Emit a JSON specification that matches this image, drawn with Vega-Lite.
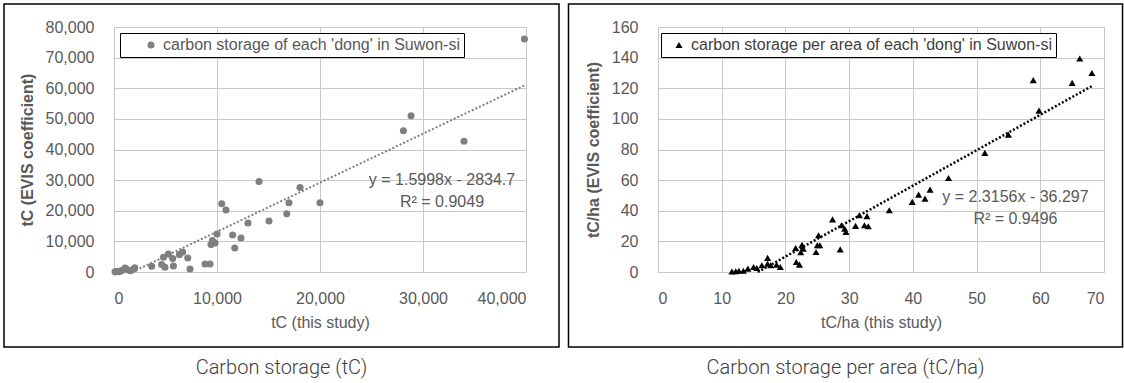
{
  "$schema": "https://vega.github.io/schema/vega-lite/v6.json",
  "padding": {"left": 2, "top": 2, "right": 0, "bottom": 0},
  "background": "white",
  "spacing": 6,
  "config": {
    "font": "Liberation Sans",
    "view": {"stroke": "#c8c8c8", "strokeWidth": 1},
    "axis": {
      "labelFont": "Liberation Sans", "labelFontSize": 16, "labelColor": "#595959",
      "titleFont": "Liberation Sans", "titleFontSize": 16, "titleColor": "#595959", "titleFontWeight": "normal",
      "gridColor": "#c8c8c8", "gridOpacity": 1, "gridWidth": 1, "grid": true, "domain": false, "ticks": false, "labelOverlap": false
    },
    "axisX": {"labelPadding": 18, "titlePadding": 8},
    "axisY": {"labelPadding": 20, "titlePadding": 10, "titleFontWeight": "bold"},
    "title": {"font": "Roboto", "fontSize": 20, "fontWeight": 300, "color": "#404040", "orient": "bottom", "offset": 10, "frame": "bounds", "anchor": "middle"}
  },
  "datasets": {
    "left": [
      {"tc_study": 39850, "tc_evis": 76100, "series": "carbon storage of each 'dong' in Suwon-si"},
      {"tc_study": 28840, "tc_evis": 51000, "series": "carbon storage of each 'dong' in Suwon-si"},
      {"tc_study": 28100, "tc_evis": 46100, "series": "carbon storage of each 'dong' in Suwon-si"},
      {"tc_study": 33980, "tc_evis": 42700, "series": "carbon storage of each 'dong' in Suwon-si"},
      {"tc_study": 14080, "tc_evis": 29580, "series": "carbon storage of each 'dong' in Suwon-si"},
      {"tc_study": 18060, "tc_evis": 27620, "series": "carbon storage of each 'dong' in Suwon-si"},
      {"tc_study": 10460, "tc_evis": 22300, "series": "carbon storage of each 'dong' in Suwon-si"},
      {"tc_study": 10870, "tc_evis": 20220, "series": "carbon storage of each 'dong' in Suwon-si"},
      {"tc_study": 16990, "tc_evis": 22630, "series": "carbon storage of each 'dong' in Suwon-si"},
      {"tc_study": 20000, "tc_evis": 22630, "series": "carbon storage of each 'dong' in Suwon-si"},
      {"tc_study": 16770, "tc_evis": 19040, "series": "carbon storage of each 'dong' in Suwon-si"},
      {"tc_study": 13010, "tc_evis": 15980, "series": "carbon storage of each 'dong' in Suwon-si"},
      {"tc_study": 15050, "tc_evis": 16630, "series": "carbon storage of each 'dong' in Suwon-si"},
      {"tc_study": 10000, "tc_evis": 12390, "series": "carbon storage of each 'dong' in Suwon-si"},
      {"tc_study": 11520, "tc_evis": 12070, "series": "carbon storage of each 'dong' in Suwon-si"},
      {"tc_study": 12330, "tc_evis": 11090, "series": "carbon storage of each 'dong' in Suwon-si"},
      {"tc_study": 9550, "tc_evis": 10240, "series": "carbon storage of each 'dong' in Suwon-si"},
      {"tc_study": 9810, "tc_evis": 9460, "series": "carbon storage of each 'dong' in Suwon-si"},
      {"tc_study": 9420, "tc_evis": 8940, "series": "carbon storage of each 'dong' in Suwon-si"},
      {"tc_study": 11720, "tc_evis": 7830, "series": "carbon storage of each 'dong' in Suwon-si"},
      {"tc_study": 5280, "tc_evis": 5870, "series": "carbon storage of each 'dong' in Suwon-si"},
      {"tc_study": 4800, "tc_evis": 4790, "series": "carbon storage of each 'dong' in Suwon-si"},
      {"tc_study": 5700, "tc_evis": 4370, "series": "carbon storage of each 'dong' in Suwon-si"},
      {"tc_study": 6350, "tc_evis": 5670, "series": "carbon storage of each 'dong' in Suwon-si"},
      {"tc_study": 6670, "tc_evis": 6520, "series": "carbon storage of each 'dong' in Suwon-si"},
      {"tc_study": 7160, "tc_evis": 4570, "series": "carbon storage of each 'dong' in Suwon-si"},
      {"tc_study": 7380, "tc_evis": 980, "series": "carbon storage of each 'dong' in Suwon-si"},
      {"tc_study": 8840, "tc_evis": 2610, "series": "carbon storage of each 'dong' in Suwon-si"},
      {"tc_study": 9320, "tc_evis": 2610, "series": "carbon storage of each 'dong' in Suwon-si"},
      {"tc_study": 3660, "tc_evis": 1860, "series": "carbon storage of each 'dong' in Suwon-si"},
      {"tc_study": 4630, "tc_evis": 2410, "series": "carbon storage of each 'dong' in Suwon-si"},
      {"tc_study": 4950, "tc_evis": 1530, "series": "carbon storage of each 'dong' in Suwon-si"},
      {"tc_study": 5770, "tc_evis": 1960, "series": "carbon storage of each 'dong' in Suwon-si"},
      {"tc_study": 1940, "tc_evis": 980, "series": "carbon storage of each 'dong' in Suwon-si"},
      {"tc_study": 2010, "tc_evis": 1370, "series": "carbon storage of each 'dong' in Suwon-si"},
      {"tc_study": 1070, "tc_evis": 1300, "series": "carbon storage of each 'dong' in Suwon-si"},
      {"tc_study": 750, "tc_evis": 460, "series": "carbon storage of each 'dong' in Suwon-si"},
      {"tc_study": 430, "tc_evis": 100, "series": "carbon storage of each 'dong' in Suwon-si"},
      {"tc_study": 100, "tc_evis": 50, "series": "carbon storage of each 'dong' in Suwon-si"},
      {"tc_study": 550, "tc_evis": 230, "series": "carbon storage of each 'dong' in Suwon-si"},
      {"tc_study": 1330, "tc_evis": 720, "series": "carbon storage of each 'dong' in Suwon-si"},
      {"tc_study": 250, "tc_evis": 150, "series": "carbon storage of each 'dong' in Suwon-si"},
      {"tc_study": 1600, "tc_evis": 400, "series": "carbon storage of each 'dong' in Suwon-si"}
    ],
    "leftTrend": [
      {"tc_study": 1772, "tc_evis": 0},
      {"tc_study": 40000, "tc_evis": 61157}
    ],
    "right": [
      {"tcha_study": 11.6, "tcha_evis": 0.3, "series": "carbon storage per area of each 'dong' in Suwon-si"},
      {"tcha_study": 12.2, "tcha_evis": 0.5, "series": "carbon storage per area of each 'dong' in Suwon-si"},
      {"tcha_study": 12.7, "tcha_evis": 0.8, "series": "carbon storage per area of each 'dong' in Suwon-si"},
      {"tcha_study": 13.4, "tcha_evis": 0.8, "series": "carbon storage per area of each 'dong' in Suwon-si"},
      {"tcha_study": 14.1, "tcha_evis": 2.2, "series": "carbon storage per area of each 'dong' in Suwon-si"},
      {"tcha_study": 15.0, "tcha_evis": 3.3, "series": "carbon storage per area of each 'dong' in Suwon-si"},
      {"tcha_study": 15.5, "tcha_evis": 2.6, "series": "carbon storage per area of each 'dong' in Suwon-si"},
      {"tcha_study": 16.3, "tcha_evis": 4.4, "series": "carbon storage per area of each 'dong' in Suwon-si"},
      {"tcha_study": 17.2, "tcha_evis": 9.2, "series": "carbon storage per area of each 'dong' in Suwon-si"},
      {"tcha_study": 17.2, "tcha_evis": 5.5, "series": "carbon storage per area of each 'dong' in Suwon-si"},
      {"tcha_study": 17.7, "tcha_evis": 4.4, "series": "carbon storage per area of each 'dong' in Suwon-si"},
      {"tcha_study": 18.6, "tcha_evis": 4.8, "series": "carbon storage per area of each 'dong' in Suwon-si"},
      {"tcha_study": 19.2, "tcha_evis": 3.3, "series": "carbon storage per area of each 'dong' in Suwon-si"},
      {"tcha_study": 21.6, "tcha_evis": 15.7, "series": "carbon storage per area of each 'dong' in Suwon-si"},
      {"tcha_study": 21.7, "tcha_evis": 6.5, "series": "carbon storage per area of each 'dong' in Suwon-si"},
      {"tcha_study": 22.2, "tcha_evis": 4.8, "series": "carbon storage per area of each 'dong' in Suwon-si"},
      {"tcha_study": 22.6, "tcha_evis": 17.8, "series": "carbon storage per area of each 'dong' in Suwon-si"},
      {"tcha_study": 22.8, "tcha_evis": 15.2, "series": "carbon storage per area of each 'dong' in Suwon-si"},
      {"tcha_study": 22.4, "tcha_evis": 12.9, "series": "carbon storage per area of each 'dong' in Suwon-si"},
      {"tcha_study": 25.0, "tcha_evis": 17.5, "series": "carbon storage per area of each 'dong' in Suwon-si"},
      {"tcha_study": 25.4, "tcha_evis": 17.5, "series": "carbon storage per area of each 'dong' in Suwon-si"},
      {"tcha_study": 24.8, "tcha_evis": 13.1, "series": "carbon storage per area of each 'dong' in Suwon-si"},
      {"tcha_study": 25.2, "tcha_evis": 24.0, "series": "carbon storage per area of each 'dong' in Suwon-si"},
      {"tcha_study": 28.6, "tcha_evis": 14.8, "series": "carbon storage per area of each 'dong' in Suwon-si"},
      {"tcha_study": 27.4, "tcha_evis": 34.4, "series": "carbon storage per area of each 'dong' in Suwon-si"},
      {"tcha_study": 28.8, "tcha_evis": 30.5, "series": "carbon storage per area of each 'dong' in Suwon-si"},
      {"tcha_study": 29.3, "tcha_evis": 28.3, "series": "carbon storage per area of each 'dong' in Suwon-si"},
      {"tcha_study": 29.5, "tcha_evis": 26.1, "series": "carbon storage per area of each 'dong' in Suwon-si"},
      {"tcha_study": 31.0, "tcha_evis": 30.1, "series": "carbon storage per area of each 'dong' in Suwon-si"},
      {"tcha_study": 31.6, "tcha_evis": 37.1, "series": "carbon storage per area of each 'dong' in Suwon-si"},
      {"tcha_study": 32.8, "tcha_evis": 36.5, "series": "carbon storage per area of each 'dong' in Suwon-si"},
      {"tcha_study": 32.4, "tcha_evis": 30.5, "series": "carbon storage per area of each 'dong' in Suwon-si"},
      {"tcha_study": 33.0, "tcha_evis": 29.9, "series": "carbon storage per area of each 'dong' in Suwon-si"},
      {"tcha_study": 36.3, "tcha_evis": 40.3, "series": "carbon storage per area of each 'dong' in Suwon-si"},
      {"tcha_study": 39.9, "tcha_evis": 45.8, "series": "carbon storage per area of each 'dong' in Suwon-si"},
      {"tcha_study": 40.9, "tcha_evis": 50.5, "series": "carbon storage per area of each 'dong' in Suwon-si"},
      {"tcha_study": 41.9, "tcha_evis": 47.9, "series": "carbon storage per area of each 'dong' in Suwon-si"},
      {"tcha_study": 42.7, "tcha_evis": 53.8, "series": "carbon storage per area of each 'dong' in Suwon-si"},
      {"tcha_study": 45.6, "tcha_evis": 61.4, "series": "carbon storage per area of each 'dong' in Suwon-si"},
      {"tcha_study": 51.3, "tcha_evis": 77.8, "series": "carbon storage per area of each 'dong' in Suwon-si"},
      {"tcha_study": 55.0, "tcha_evis": 89.7, "series": "carbon storage per area of each 'dong' in Suwon-si"},
      {"tcha_study": 59.8, "tcha_evis": 105.4, "series": "carbon storage per area of each 'dong' in Suwon-si"},
      {"tcha_study": 58.9, "tcha_evis": 125.3, "series": "carbon storage per area of each 'dong' in Suwon-si"},
      {"tcha_study": 65.0, "tcha_evis": 123.5, "series": "carbon storage per area of each 'dong' in Suwon-si"},
      {"tcha_study": 66.2, "tcha_evis": 139.4, "series": "carbon storage per area of each 'dong' in Suwon-si"},
      {"tcha_study": 68.1, "tcha_evis": 130.0, "series": "carbon storage per area of each 'dong' in Suwon-si"}
    ],
    "rightTrend": [
      {"tcha_study": 15.67, "tcha_evis": 0},
      {"tcha_study": 68.1, "tcha_evis": 121.4}
    ]
  },
  "resolve": {"legend": {"color": "independent"}, "scale": {"color": "independent"}},
  "hconcat": [
    {
      "width": 412,
      "height": 245,
      "title": {"text": "Carbon storage (tC)"},
      "layer": [
        {
          "data": {"name": "leftTrend"},
          "mark": {"type": "line", "strokeDash": [2, 2], "strokeWidth": 2, "color": "#808080"},
          "encoding": {
            "x": {"field": "tc_study", "type": "quantitative", "scale": {"domain": [0, 40000], "nice": false},
                  "axis": {"title": "tC (this study)", "values": [0, 10000, 20000, 30000, 40000], "format": ",.0f", "grid": true, "gridColor": "#c8c8c8", "zindex": 0}},
            "y": {"field": "tc_evis", "type": "quantitative", "scale": {"domain": [0, 80000], "nice": false},
                  "axis": {"title": "tC (EVIS coefficient)", "values": [0, 10000, 20000, 30000, 40000, 50000, 60000, 70000, 80000], "format": ",.0f", "grid": true, "gridColor": "#c8c8c8", "zindex": 0}}
          }
        },
        {
          "data": {"name": "left"},
          "mark": {"type": "point", "filled": true, "shape": "circle", "size": 50, "opacity": 1},
          "encoding": {
            "x": {"field": "tc_study", "type": "quantitative", "scale": {"domain": [0, 40000], "nice": false},
                  "axis": {"title": "tC (this study)", "values": [0, 10000, 20000, 30000, 40000], "format": ",.0f", "grid": true, "gridColor": "#c8c8c8", "zindex": 0}},
            "y": {"field": "tc_evis", "type": "quantitative", "scale": {"domain": [0, 80000], "nice": false},
                  "axis": {"title": "tC (EVIS coefficient)", "values": [0, 10000, 20000, 30000, 40000, 50000, 60000, 70000, 80000], "format": ",.0f", "grid": true, "gridColor": "#c8c8c8", "zindex": 0}},
            "color": {"field": "series", "type": "nominal", "scale": {"range": ["#7f7f7f"]},
                      "legend": {"orient": "none", "legendX": 6, "legendY": 6, "title": null, "strokeColor": "black", "fillColor": "white", "padding": 4, "symbolOffset": 19, "symbolType": "circle", "symbolSize": 50, "labelFont": "Liberation Sans", "labelFontSize": 16, "labelColor": "#595959", "labelLimit": 0}}
          }
        },
        {
          "data": {"values": [{}]},
          "mark": {"type": "text", "font": "Liberation Sans", "fontSize": 16, "color": "#595959", "align": "center", "baseline": "middle"},
          "encoding": {
            "x": {"datum": 31845, "type": "quantitative", "scale": {"domain": [0, 40000], "nice": false},
                  "axis": {"title": "tC (this study)", "values": [0, 10000, 20000, 30000, 40000], "format": ",.0f", "grid": true, "gridColor": "#c8c8c8", "zindex": 0}},
            "y": {"datum": 30040, "type": "quantitative", "scale": {"domain": [0, 80000], "nice": false},
                  "axis": {"title": "tC (EVIS coefficient)", "values": [0, 10000, 20000, 30000, 40000, 50000, 60000, 70000, 80000], "format": ",.0f", "grid": true, "gridColor": "#c8c8c8", "zindex": 0}},
            "text": {"value": "y = 1.5998x - 2834.7"}
          }
        },
        {
          "data": {"values": [{}]},
          "mark": {"type": "text", "font": "Liberation Sans", "fontSize": 16, "color": "#595959", "align": "center", "baseline": "middle"},
          "encoding": {
            "x": {"datum": 31845, "type": "quantitative", "scale": {"domain": [0, 40000], "nice": false},
                  "axis": {"title": "tC (this study)", "values": [0, 10000, 20000, 30000, 40000], "format": ",.0f", "grid": true, "gridColor": "#c8c8c8", "zindex": 0}},
            "y": {"datum": 22855, "type": "quantitative", "scale": {"domain": [0, 80000], "nice": false},
                  "axis": {"title": "tC (EVIS coefficient)", "values": [0, 10000, 20000, 30000, 40000, 50000, 60000, 70000, 80000], "format": ",.0f", "grid": true, "gridColor": "#c8c8c8", "zindex": 0}},
            "text": {"value": "R² = 0.9049"}
          }
        },
        {
          "data": {"values": [{}]},
          "mark": {"type": "rect", "filled": false, "color": "black", "strokeWidth": 1.5},
          "encoding": {
            "x": {"datum": -10680, "type": "quantitative", "scale": {"domain": [0, 40000], "nice": false},
                  "axis": {"title": "tC (this study)", "values": [0, 10000, 20000, 30000, 40000], "format": ",.0f", "grid": true, "gridColor": "#c8c8c8", "zindex": 0}},
            "x2": {"datum": 43204},
            "y": {"datum": 87510, "type": "quantitative", "scale": {"domain": [0, 80000], "nice": false},
                  "axis": {"title": "tC (EVIS coefficient)", "values": [0, 10000, 20000, 30000, 40000, 50000, 60000, 70000, 80000], "format": ",.0f", "grid": true, "gridColor": "#c8c8c8", "zindex": 0}},
            "y2": {"datum": -24490}
          }
        }
      ]
    },
    {
      "width": 446,
      "height": 245,
      "title": {"text": "Carbon storage per area (tC/ha)"},
      "layer": [
        {
          "data": {"name": "rightTrend"},
          "mark": {"type": "line", "strokeDash": [2, 2], "strokeWidth": 2.5, "color": "#000000"},
          "encoding": {
            "x": {"field": "tcha_study", "type": "quantitative", "scale": {"domain": [0, 70], "nice": false},
                  "axis": {"title": "tC/ha (this study)", "values": [0, 10, 20, 30, 40, 50, 60, 70], "grid": true, "gridColor": "#c8c8c8", "zindex": 0}},
            "y": {"field": "tcha_evis", "type": "quantitative", "scale": {"domain": [0, 160], "nice": false},
                  "axis": {"title": "tC/ha (EVIS coefficient)", "values": [0, 20, 40, 60, 80, 100, 120, 140, 160], "grid": true, "gridColor": "#c8c8c8", "zindex": 0}}
          }
        },
        {
          "data": {"name": "right"},
          "mark": {"type": "point", "filled": true, "shape": "triangle-up", "size": 50, "opacity": 1},
          "encoding": {
            "x": {"field": "tcha_study", "type": "quantitative", "scale": {"domain": [0, 70], "nice": false},
                  "axis": {"title": "tC/ha (this study)", "values": [0, 10, 20, 30, 40, 50, 60, 70], "grid": true, "gridColor": "#c8c8c8", "zindex": 0}},
            "y": {"field": "tcha_evis", "type": "quantitative", "scale": {"domain": [0, 160], "nice": false},
                  "axis": {"title": "tC/ha (EVIS coefficient)", "values": [0, 20, 40, 60, 80, 100, 120, 140, 160], "grid": true, "gridColor": "#c8c8c8", "zindex": 0}},
            "color": {"field": "series", "type": "nominal", "scale": {"range": ["#000000"]},
                      "legend": {"orient": "none", "legendX": 3, "legendY": 6, "title": null, "strokeColor": "black", "fillColor": "white", "padding": 4, "symbolOffset": 6, "symbolType": "triangle-up", "symbolSize": 50, "labelFont": "Liberation Sans", "labelFontSize": 16, "labelColor": "#404040", "labelLimit": 0}}
          }
        },
        {
          "data": {"values": [{}]},
          "mark": {"type": "text", "font": "Liberation Sans", "fontSize": 16, "color": "#595959", "align": "center", "baseline": "middle"},
          "encoding": {
            "x": {"datum": 56.1, "type": "quantitative", "scale": {"domain": [0, 70], "nice": false},
                  "axis": {"title": "tC/ha (this study)", "values": [0, 10, 20, 30, 40, 50, 60, 70], "grid": true, "gridColor": "#c8c8c8", "zindex": 0}},
            "y": {"datum": 49.0, "type": "quantitative", "scale": {"domain": [0, 160], "nice": false},
                  "axis": {"title": "tC/ha (EVIS coefficient)", "values": [0, 20, 40, 60, 80, 100, 120, 140, 160], "grid": true, "gridColor": "#c8c8c8", "zindex": 0}},
            "text": {"value": "y = 2.3156x - 36.297"}
          }
        },
        {
          "data": {"values": [{}]},
          "mark": {"type": "text", "font": "Liberation Sans", "fontSize": 16, "color": "#595959", "align": "center", "baseline": "middle"},
          "encoding": {
            "x": {"datum": 56.1, "type": "quantitative", "scale": {"domain": [0, 70], "nice": false},
                  "axis": {"title": "tC/ha (this study)", "values": [0, 10, 20, 30, 40, 50, 60, 70], "grid": true, "gridColor": "#c8c8c8", "zindex": 0}},
            "y": {"datum": 34.6, "type": "quantitative", "scale": {"domain": [0, 160], "nice": false},
                  "axis": {"title": "tC/ha (EVIS coefficient)", "values": [0, 20, 40, 60, 80, 100, 120, 140, 160], "grid": true, "gridColor": "#c8c8c8", "zindex": 0}},
            "text": {"value": "R² = 0.9496"}
          }
        },
        {
          "data": {"values": [{}]},
          "mark": {"type": "rect", "filled": false, "color": "black", "strokeWidth": 1.5},
          "encoding": {
            "x": {"datum": -14.05, "type": "quantitative", "scale": {"domain": [0, 70], "nice": false},
                  "axis": {"title": "tC/ha (this study)", "values": [0, 10, 20, 30, 40, 50, 60, 70], "grid": true, "gridColor": "#c8c8c8", "zindex": 0}},
            "x2": {"datum": 72.91},
            "y": {"datum": 175.02, "type": "quantitative", "scale": {"domain": [0, 160], "nice": false},
                  "axis": {"title": "tC/ha (EVIS coefficient)", "values": [0, 20, 40, 60, 80, 100, 120, 140, 160], "grid": true, "gridColor": "#c8c8c8", "zindex": 0}},
            "y2": {"datum": -48.98}
          }
        }
      ]
    }
  ]
}
